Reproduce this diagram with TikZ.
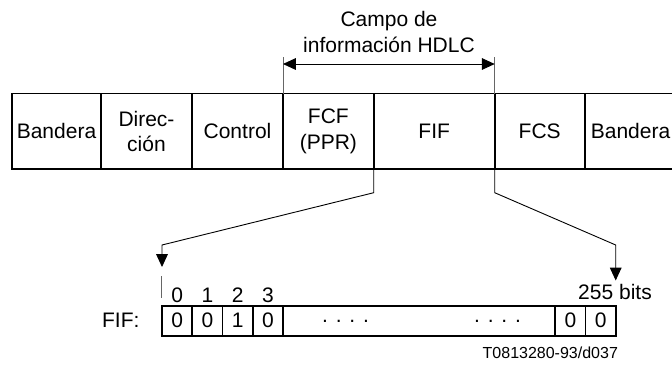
\documentclass[tikz,border=0pt]{standalone}
\usepackage{fontspec}
\setmainfont{Liberation Sans}
\usetikzlibrary{arrows.meta, positioning}
\tikzstyle{field} = [rectangle, draw=black, line width=0.9pt,
minimum height=37.75pt, inner sep=0pt, outer sep=0pt,
align=center]
\tikzstyle{bitcell} = [rectangle, draw=black, line width=0.9pt,
minimum width=15.15pt, minimum height=15pt, inner sep=0pt, outer sep=0pt]
\tikzstyle{tick} = [gray!80!black, line width=0.5pt]
\tikzstyle{link} = [black, line width=0.45pt]
\tikzstyle{arrow} = [-{Triangle[length=6.4pt, width=5.8pt]}, link]

\begin{document}
\begin{tikzpicture}[x=0.5pt, y=-0.5pt, every node/.style={font=\fontsize{10.5}{12.6}\selectfont}]

		% Canvas boundary
		\useasboundingbox (0,0) rectangle (672,365);

		% HDLC frame fields
		\node[field, minimum width=44.5pt] (band1) at (56.5, 131.25) {Bandera};
		\node[field, minimum width=45.5pt] (dir) at (146.5, 131.25) {Direc-\\ción};
		\node[field, minimum width=45.5pt] (ctrl) at (237.5, 131.25) {Control};
		\node[field, minimum width=45.35pt] (fcf) at (328.35, 131.25) {FCF\\(PPR)};
		\node[field, minimum width=60.5pt] (fif) at (434.2, 131.25) {FIF};
		\node[field, minimum width=45pt] (fcs) at (539.7, 131.25) {FCS};
		\node[field, draw=none, minimum width=45.8pt] (band2) at (630.5, 131.25) {Bandera};
		\draw[line width=0.9pt] (band2.north west) -- (band2.north east);
		\draw[line width=0.9pt] (band2.south west) -- (band2.south east);

		% Information field span
		\coordinate (infoL) at (283, 64);
		\coordinate (infoR) at (494.7, 64);
		\draw[tick] (283, 57) -- (fcf.north west);
		\draw[tick] (494.7, 57) -- (fif.north east);
		\draw[{Triangle[length=6.4pt, width=5.8pt]}-{Triangle[length=6.4pt, width=5.8pt]}, link] (infoL) -- (infoR);
		\node[align=center] (campo) at (389, 32) {Campo de\\información HDLC};

		% FIF register
		\node (fiflabel) at (120.8, 320.7) {FIF:};
		\foreach \i/\b in {0/0, 1/0, 2/1, 3/0}
		{
			\node[bitcell] (c\i) at (177.1+30.3*\i, 320.7) {\b};
			\node (n\i) at (177.1+30.3*\i, 295) {\i};
		}
		\node[bitcell, minimum width=136.05pt] (mid) at (419.25, 320.7) {};
		\node[bitcell] (c254) at (570.4, 320.7) {0};
		\node[bitcell] (c255) at (600.6, 320.7) {0};
		\node (dotsL) at (345.5, 321) {. . . .};
		\node (dotsR) at (497.5, 321) {. . . .};
		\node (bits) at (615, 291.7) {255 bits};
		\draw[tick] (c0.north west) ++(0,-8) -- ++(0,-22);

		% Connectors from frame to register
		\coordinate (l1) at (373.7, 192.7);
		\coordinate (l2) at (162, 245);
		\coordinate (l3) at (162, 267);
		\coordinate (r1) at (494.7, 192.7);
		\coordinate (r2) at (615.7, 245);
		\coordinate (r3) at (615.7, 280.5);
		\draw[arrow] (fcf.south east) -- (l1) -- (l2) -- (l3);
		\draw[arrow] (fif.south east) -- (r1) -- (r2) -- (r3);

		% Figure reference
		\node[font=\fontsize{8}{9.6}\selectfont] (ref) at (550.3, 353) {T0813280-93/d037};

	\end{tikzpicture}
\end{document}
